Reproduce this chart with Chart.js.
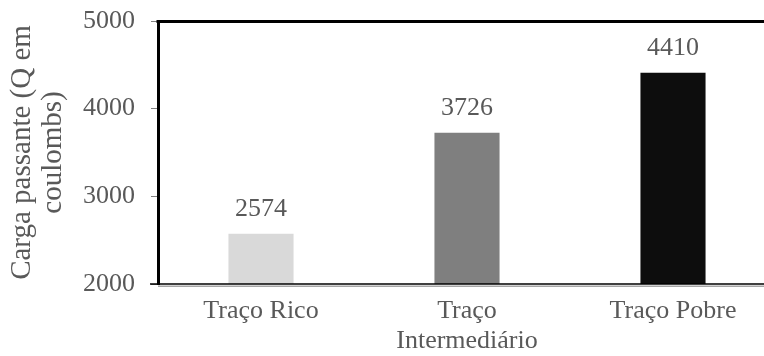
<!DOCTYPE html>
<html>
<head>
<meta charset="utf-8">
<script src="https://cdn.jsdelivr.net/npm/chart.js@4/dist/chart.umd.min.js"></script>
<style>
  html, body { margin: 0; padding: 0; background: #fff; overflow: hidden; }
  #wrap { width: 780px; height: 356px; position: relative; }
</style>
</head>
<body>
<div id="wrap"><canvas id="myChart"></canvas></div>
<script>
// Categories and values
var categories = ['Traço Rico', ['Traço', 'Intermediário'], 'Traço Pobre'];
var carga = [2574, 3726, 4410];
var barColors = ['#d9d9d9', '#7f7f7f', '#0d0d0d'];
var yTicks = [2000, 3000, 4000, 5000];

var textColor = '#595959';
var serif = "'Liberation Serif', 'Times New Roman', serif";

// Value labels above each bar
var valueLabels = {
  id: 'valueLabels',
  afterDatasetsDraw: function (chart) {
    var ctx = chart.ctx;
    var meta = chart.getDatasetMeta(0);
    ctx.save();
    ctx.font = '26px ' + serif;
    ctx.fillStyle = textColor;
    ctx.textAlign = 'center';
    ctx.textBaseline = 'middle';
    meta.data.forEach(function (bar, i) {
      ctx.fillText(String(carga[i]), bar.x, bar.y - 25);
    });
    ctx.restore();
  }
};

// Frame: heavy top line, double line along the bottom
var frame = {
  id: 'frame',
  afterDraw: function (chart) {
    var ctx = chart.ctx;
    var a = chart.chartArea;
    ctx.save();
    ctx.strokeStyle = '#000';
    ctx.lineWidth = 3;
    ctx.beginPath();
    ctx.moveTo(a.left - 1.5, a.top + 0.5);
    ctx.lineTo(chart.width, a.top + 0.5);
    ctx.stroke();

    ctx.lineWidth = 1.5;
    ctx.beginPath();
    ctx.moveTo(a.left - 8, a.bottom);
    ctx.lineTo(chart.width, a.bottom);
    ctx.stroke();

    ctx.strokeStyle = '#a6a6a6';
    ctx.beginPath();
    ctx.moveTo(a.left, a.bottom + 2.2);
    ctx.lineTo(chart.width, a.bottom + 2.2);
    ctx.stroke();
    ctx.restore();
  }
};

var ctx = document.getElementById('myChart').getContext('2d');

var myChart = new Chart(ctx, {
  type: 'bar',
  data: {
    labels: categories,
    datasets: [{
      data: carga,
      backgroundColor: barColors,
      borderWidth: 0,
      categoryPercentage: 1,
      barPercentage: 0.316
    }]
  },
  options: {
    responsive: true,
    maintainAspectRatio: false,
    animation: false,
    layout: { padding: { top: 21, right: 4, left: 0, bottom: 0 } },
    plugins: {
      legend: { display: false },
      tooltip: { enabled: false }
    },
    scales: {
      x: {
        grid: { display: false, drawTicks: false },
        border: { display: false },
        ticks: {
          color: textColor,
          font: { family: serif, size: 26, lineHeight: 1.15 },
          padding: 12,
          maxRotation: 0
        },
        afterFit: function (scale) {
          scale.height = 72;
          scale.paddingLeft = 0;
          scale.paddingRight = 0;
        }
      },
      y: {
        min: 2000,
        max: 5000,
        afterBuildTicks: function (scale) {
          scale.ticks = yTicks.map(function (v) { return { value: v }; });
        },
        grid: {
          drawOnChartArea: false,
          drawTicks: true,
          tickLength: 7,
          color: '#7f7f7f',
          lineWidth: 1
        },
        border: { display: true, color: '#000', width: 3 },
        ticks: {
          color: textColor,
          font: { family: serif, size: 26 },
          padding: 16,
          callback: function (v) { return String(v); }
        },
        title: {
          display: true,
          text: ['Carga passante (Q em', 'coulombs)'],
          color: textColor,
          font: { family: serif, size: 29, lineHeight: 1.1 },
          padding: { top: 6, bottom: 0 }
        },
        afterFit: function (scale) {
          scale.width = 158;
          scale.paddingTop = 0;
          scale.paddingBottom = 0;
        }
      }
    }
  },
  plugins: [valueLabels, frame]
});
</script>
</body>
</html>
